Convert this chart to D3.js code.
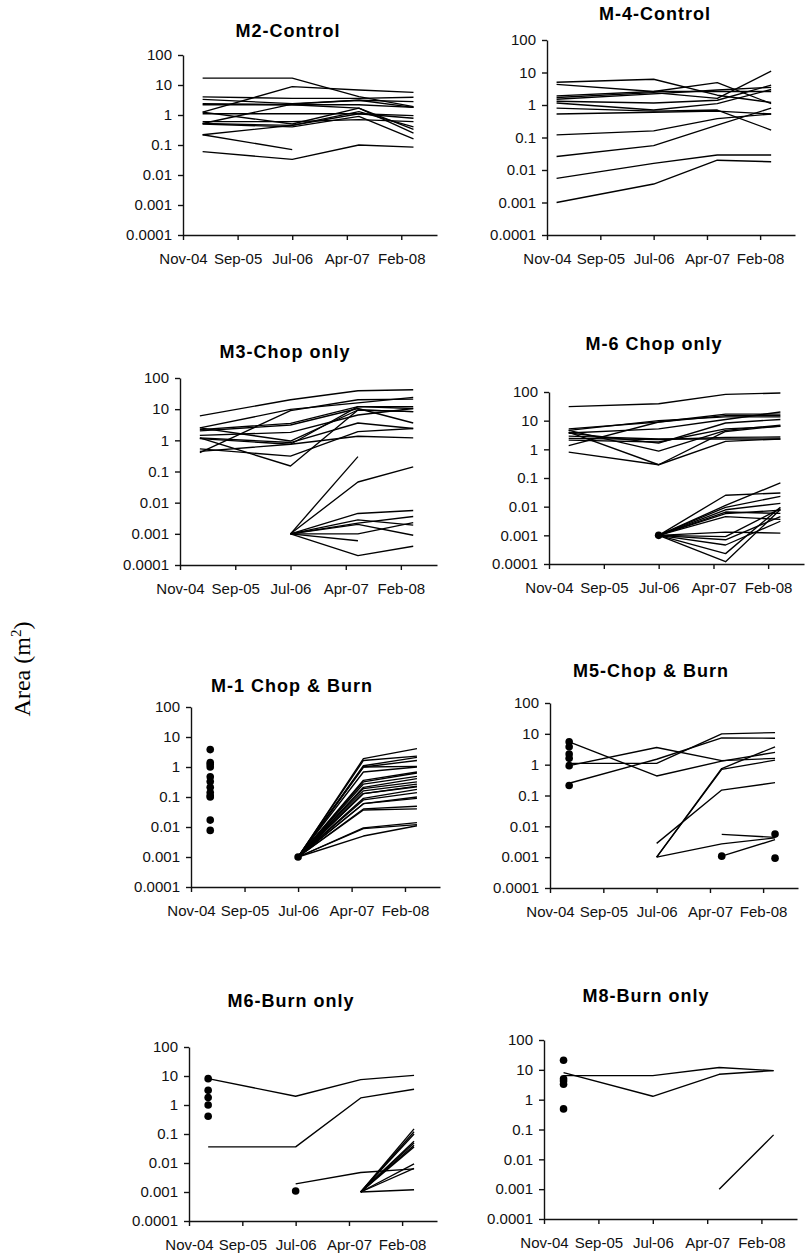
<!DOCTYPE html>
<html><head><meta charset="utf-8">
<script src="https://cdn.jsdelivr.net/npm/d3@7"></script>
<style>body{margin:0;background:#fff} svg{display:block}</style>
</head><body><svg id="c" width="806" height="1254"></svg>
<script>
// ---- tick labels / dates ----
const xTickDates = ["2004-11-25","2005-09-16","2006-07-08","2007-04-29","2008-02-17"];
const xTickLabels = ["Nov-04","Sep-05","Jul-06","Apr-07","Feb-08"];
const axisStart = "2004-11-25";
const axisEnd = "2008-08-28";
const yTickValues = [100,10,1,0.1,0.01,0.001,0.0001];
const yTickLabels = ["100","10","1","0.1","0.01","0.001","0.0001"];
const sampleDates = ["2005-03-11","2006-07-08","2007-07-03","2008-04-23"];
const sampleDatesM4 = ["2005-01-17","2006-07-08","2007-06-25","2008-04-18"];
const titles = ["M2-Control","M-4-Control","M3-Chop only","M-6 Chop only","M-1 Chop & Burn","M5-Chop & Burn","M6-Burn only","M8-Burn only"];

// ---- series values: each row = one patch, 4 sampling dates, null = absent ----
const m2Lines = [
 [17,17,4.1,1.9],[1.25,8.8,6.8,5.7],[4,3.6,3.6,3.9],[3.3,2.4,3.1,2.8],
 [2.4,2.2,2.2,1.8],[2.2,2.2,1.7,0.33],[1.25,0.5,1.7,0.25],[0.52,2.3,3.1,1.8],
 [1.1,1.1,1.1,0.95],[0.6,0.6,0.7,0.6],[0.5,0.4,0.9,0.16],[0.52,0.45,1.3,0.4],
 [0.22,0.07,null,null],[0.22,0.45,1.1,0.78],[0.06,0.033,0.1,0.085]
];
const m2Dots = [];
const m4Lines = [
 [5.0,6.2,2.0,1.2],[4.3,2.6,2.6,2.6],[1.9,2.6,4.9,1.1],[1.7,2.4,1.6,11],
 [1.5,2.2,2.9,3.5],[1.3,1.15,1.4,4.1],[1.15,0.7,1.1,3.0],[0.8,0.65,0.7,0.17],
 [0.53,0.6,0.65,0.53],[0.12,0.16,0.38,0.53],[0.026,0.056,0.24,0.8],
 [0.0055,0.016,0.029,0.029],[0.001,0.0037,0.02,0.018]
];
const m4Dots = [];
const m3Lines = [
 [6.1,20,39,42],[0.4,9.0,20,21],[2.5,9.8,16,24],[2.2,3.5,12,12],[2.0,3.1,10.5,3.6],
 [1.45,1.8,6.5,10.5],[2.5,0.95,9.4,8.3],[1.2,0.85,3.6,2.4],[1.13,0.75,12,10.5],
 [0.53,0.31,1.9,2.4],[1.2,0.15,9.4,8.3],[0.44,0.75,1.35,1.2],
 [null,0.001,0.3,null],[null,0.001,0.046,0.14],[null,0.001,0.0045,0.0056],
 [null,0.001,0.0022,0.0036],[null,0.001,0.002,0.0009],[null,0.001,0.001,0.0023],
 [null,0.001,0.0006,null],[null,0.001,0.0002,0.0004],[null,0.001,0.0028,0.0019]
];
const m3Dots = [];
const m6cLines = [
 [31,39,83,92],[5.2,9,17,17],[4.6,10,13.5,13.5],[3.7,5.2,11,20],[1.35,9,15,15],
 [3.7,1.65,8.3,11],[2.9,2.3,2.3,2.3],[2.4,2.2,2.6,2.7],[2.1,1.8,5.2,6.3],
 [4.6,0.87,4.6,7],[4.0,0.29,4.2,6.5],[0.8,0.29,1.9,2.3],
 [null,0.001,0.011,0.068],[null,0.001,0.025,0.03],[null,0.001,0.0095,0.023],
 [null,0.001,0.0078,0.013],[null,0.001,0.0065,0.0058],[null,0.001,0.0057,0.0075],
 [null,0.001,0.0045,0.0036],[null,0.001,0.0013,0.0012],[null,0.001,0.0009,0.0085],
 [null,0.001,0.0007,0.0045],[null,0.001,0.00046,0.0031],[null,0.001,0.00023,0.0096],
 [null,0.001,0.00012,0.008]
];
const m6cDots = [[1,0.001]];
const m1Lines = [
 [null,0.001,1.9,4.1],[null,0.001,1.65,2.3],[null,0.001,1.1,2.1],[null,0.001,1.0,1.65],
 [null,0.001,1.0,1.05],[null,0.001,0.68,1.0],[null,0.001,0.36,0.68],[null,0.001,0.32,0.63],
 [null,0.001,0.27,0.49],[null,0.001,0.21,0.41],[null,0.001,0.19,0.32],[null,0.001,0.16,0.27],
 [null,0.001,0.13,0.23],[null,0.001,0.13,0.22],[null,0.001,0.09,0.18],[null,0.001,0.08,0.14],
 [null,0.001,0.06,0.1],[null,0.001,0.06,0.09],[null,0.001,0.04,0.049],[null,0.001,0.037,0.04],
 [null,0.001,0.0093,0.014],[null,0.001,0.0088,0.012],[null,0.001,0.005,0.011]
];
const m1Dots = [[0,3.8],[0,1.4],[0,1.2],[0,1.0],[0,0.47],[0,0.33],[0,0.21],[0,0.14],[0,0.11],[0,0.1],[0,0.017],[0,0.0077],[1,0.001]];
const m5Lines = [
 [5.5,0.43,1.3,2.5],[0.93,3.6,1.35,1.6],[1.1,1.1,10,11],[0.25,1.5,7.4,7.2],
 [null,0.0028,0.15,0.26],[null,0.001,0.75,3.8],[null,0.001,0.7,1.4],
 [null,0.001,0.0027,0.0042],[null,null,0.0055,0.0044],[null,null,0.00108,0.0037]
];
const m5Dots = [[0,5.5],[0,3.8],[0,2.2],[0,1.6],[0,0.93],[0,0.21],[2,0.00108],[3,0.0056],[3,0.00093]];
const m6bLines = [
 [8.1,2.0,7.5,10.5],[0.036,0.036,1.75,3.5],[null,0.0019,0.0047,0.0063],
 [null,null,0.001,0.15],[null,null,0.001,0.12],[null,null,0.001,0.1],[null,null,0.001,0.056],
 [null,null,0.001,0.049],[null,null,0.001,0.041],[null,null,0.001,0.036],
 [null,null,0.001,0.0093],[null,null,0.001,0.0065],[null,null,0.001,0.0012]
];
const m6bDots = [[0,8.1],[0,3.2],[0,1.8],[0,1.0],[0,0.41],[1,0.00108]];
const m8Lines = [[8.1,1.3,7.1,9.4],[6.4,6.4,12,9.4],[null,null,0.001,0.066]];
const m8Dots = [[0,21],[0,5.0],[0,4.2],[0,3.3],[0,0.49]];

// ---- layout (positions only) ----
const panels = [
 {lines:m2Lines, dots:m2Dots, dates:sampleDates, left:183,right:437,top:55,bottom:235, tx:288,ty:37},
 {lines:m4Lines, dots:m4Dots, dates:sampleDatesM4, left:547,right:795,top:40,bottom:235, tx:655,ty:20},
 {lines:m3Lines, dots:m3Dots, dates:sampleDates, left:180,right:437,top:378,bottom:565, tx:285,ty:358},
 {lines:m6cLines, dots:m6cDots, dates:sampleDates, left:549,right:804,top:392,bottom:564, tx:654,ty:350},
 {lines:m1Lines, dots:m1Dots, dates:sampleDates, left:191,right:440,top:707,bottom:887, tx:292,ty:692},
 {lines:m5Lines, dots:m5Dots, dates:sampleDates, left:550,right:798,top:703,bottom:888, tx:651,ty:677},
 {lines:m6bLines, dots:m6bDots, dates:sampleDates, left:189,right:437,top:1047,bottom:1221, tx:291,ty:1007},
 {lines:m8Lines, dots:m8Dots, dates:sampleDates, left:544,right:797,top:1040,bottom:1219, tx:646,ty:1002}
];

const svg = d3.select("#c");
const parse = d3.utcParse("%Y-%m-%d");
const font = "'Liberation Sans', Arial, sans-serif";

panels.forEach((p, k) => {
  const x = d3.scaleUtc().domain([parse(axisStart), parse(axisEnd)]).range([p.left, p.right]);
  const y = d3.scaleLog().domain([0.0001, 100]).range([p.bottom, p.top]);
  const dts = p.dates.map(parse);
  const g = svg.append("g");

  const yAxis = d3.axisLeft(y).tickValues(yTickValues)
    .tickFormat((d,i) => yTickLabels[i]).tickSize(5).tickSizeOuter(0).tickPadding(6);
  const xAxis = d3.axisBottom(x).tickValues(xTickDates.map(parse))
    .tickFormat((d,i) => xTickLabels[i]).tickSize(5).tickSizeOuter(0).tickPadding(13);

  const ya = g.append("g").attr("transform", `translate(${p.left},0)`).call(yAxis);
  const xa = g.append("g").attr("transform", `translate(0,${p.bottom})`).call(xAxis);
  [ya, xa].forEach(a => {
    a.selectAll("path,line").attr("stroke", "#111").attr("stroke-width", 1.4);
    a.selectAll("text").attr("fill", "#111").style("font-family", font).style("font-size", "15px");
  });

  const line = d3.line()
    .defined(d => d != null)
    .x((d,i) => x(dts[i]))
    .y(d => y(d));
  g.append("g").selectAll("path").data(p.lines).join("path")
    .attr("d", d => line(d))
    .attr("fill", "none").attr("stroke", "#000").attr("stroke-width", 1.35)
    .attr("stroke-linejoin", "round");

  g.append("g").selectAll("circle").data(p.dots).join("circle")
    .attr("cx", d => x(dts[d[0]])).attr("cy", d => y(d[1])).attr("r", 3.8).attr("fill", "#000");

  g.append("text").attr("x", p.tx).attr("y", p.ty).attr("text-anchor", "middle")
    .style("font-family", font).style("font-weight", "bold").style("font-size", "18px")
    .style("letter-spacing", "1px").attr("fill", "#000").text(titles[k]);
});

const yl = svg.append("text").attr("transform", "translate(30,669) rotate(-90)")
  .attr("text-anchor", "middle").style("font-family", "'Liberation Serif', 'Times New Roman', serif")
  .style("font-size", "24px").attr("fill", "#000");
yl.append("tspan").text("Area (m");
yl.append("tspan").attr("dy", "-9").style("font-size", "15px").text("2");
yl.append("tspan").attr("dy", "9").text(")");
</script></body></html>
